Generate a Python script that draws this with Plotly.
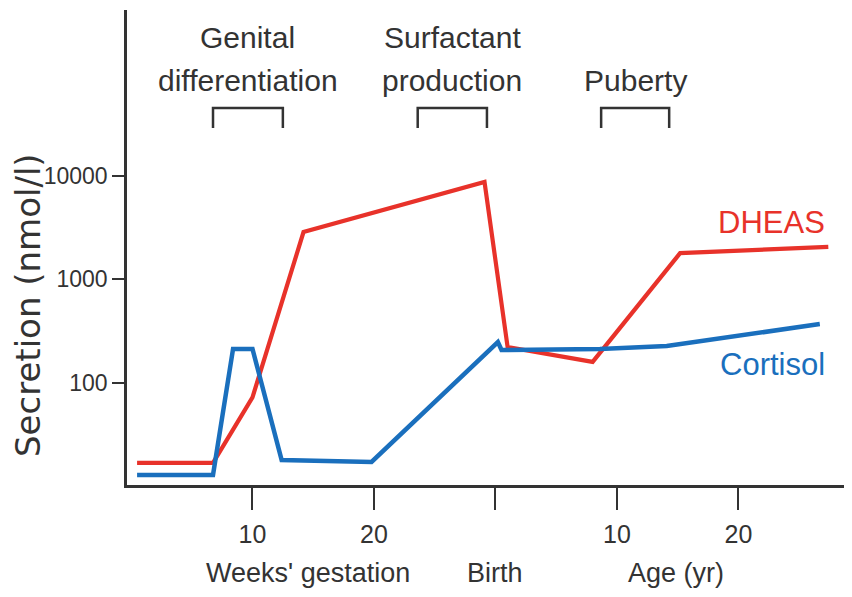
import plotly.graph_objects as go

# x scale: weeks of gestation 0-30, birth = 30, then 30 + age in years
dheas_x = [0.5, 6.75, 10.0, 14.2, 29.1, 31.0, 38.0, 45.2, 57.4]
dheas_y = [16.7, 16.7, 72, 2840, 8650, 220, 158, 1780, 2040]

cortisol_x = [0.5, 6.75, 8.4, 10.0, 12.4, 19.8, 30.2, 30.5, 38.6, 44.1, 56.7]
cortisol_y = [12.8, 12.8, 211, 211, 17.8, 17.1, 246, 206, 211, 225, 367]

x_tick_vals = [10, 20, 30, 40, 50]
x_tick_text = ["10", "20", "", "10", "20"]
y_tick_vals = [100, 1000, 10000]
y_tick_text = ["100", "1000", "10000"]

x_group_labels = ["Weeks' gestation", "Birth", "Age (yr)"]
x_group_pos = [14.6, 30.0, 44.9]

phase_line1 = ["Genital", "Surfactant", ""]
phase_line2 = ["differentiation", "production", "Puberty"]
phase_start = [6.75, 23.6, 38.7]
phase_end = [12.5, 29.3, 44.3]

RED = "#e8322a"
BLUE = "#1a6fbd"
AX = "#333333"
TXT = "#333333"
FONT = "Liberation Sans, Arial, sans-serif"

# page body adds an 8px offset; compensate in size/margins
OFF = 8

fig = go.Figure()
fig.add_trace(go.Scatter(x=dheas_x, y=dheas_y, mode="lines",
                         line=dict(color=RED, width=4.2), name="DHEAS"))
fig.add_trace(go.Scatter(x=cortisol_x, y=cortisol_y, mode="lines",
                         line=dict(color=BLUE, width=4.5), name="Cortisol"))

fig.update_layout(
    width=852 - OFF, height=597 - OFF,
    margin=dict(l=127 - OFF, r=0, t=10 - OFF, b=112),
    paper_bgcolor="white", plot_bgcolor="white",
    showlegend=False,
    font=dict(family=FONT, color=TXT),
)
fig.update_xaxes(range=[-0.33, 59.35], showgrid=False, zeroline=False,
                 showline=True, linecolor=AX, linewidth=2.5,
                 ticks="outside", ticklen=22, tickwidth=2, tickcolor=AX,
                 tickvals=x_tick_vals, ticktext=x_tick_text,
                 tickfont=dict(size=25, family=FONT, color=TXT),
                 ticklabelstandoff=3)
fig.update_yaxes(type="log", range=[1.0097, 5.599], showgrid=False, zeroline=False,
                 showline=True, linecolor=AX, linewidth=2.5,
                 ticks="outside", ticklen=12, tickwidth=2, tickcolor=AX,
                 tickvals=y_tick_vals, ticktext=y_tick_text,
                 tickfont=dict(size=23, family=FONT, color=TXT))

def py(screen_y):
    return (485 - screen_y) / 475.0

# lower row of x labels
for lab, xp in zip(x_group_labels, x_group_pos):
    fig.add_annotation(x=xp, xref="x", y=py(573), yref="paper", text=lab,
                       showarrow=False, yanchor="middle",
                       font=dict(size=27, family=FONT, color=TXT))

# phase brackets and labels
yb, yt = py(128), py(108)
for l1, l2, s, e in zip(phase_line1, phase_line2, phase_start, phase_end):
    fig.add_shape(type="path", xref="x", yref="paper",
                  path=f"M {s},{yb} L {s},{yt} L {e},{yt} L {e},{yb}",
                  line=dict(color=AX, width=2.5))
    if l1:
        fig.add_annotation(x=(s + e) / 2, xref="x", y=py(37), yref="paper", text=l1,
                           showarrow=False, yanchor="middle",
                           font=dict(size=30, family=FONT, color=TXT))
    fig.add_annotation(x=(s + e) / 2, xref="x", y=py(80), yref="paper", text=l2,
                       showarrow=False, yanchor="middle",
                       font=dict(size=30, family=FONT, color=TXT))

# series labels
fig.add_annotation(x=57.3, xref="x", y=py(222), yref="paper", text="DHEAS", showarrow=False,
                   xanchor="right", yanchor="middle",
                   font=dict(size=31, family=FONT, color=RED))
fig.add_annotation(x=57.3, xref="x", y=py(364), yref="paper", text="Cortisol", showarrow=False,
                   xanchor="right", yanchor="middle",
                   font=dict(size=31, family=FONT, color=BLUE))

# y axis title
fig.add_annotation(x=(28 - 127) / 725.0, xref="paper", y=py(305), yref="paper",
                   text="Secretion (nmol/l)", showarrow=False, textangle=-90,
                   xanchor="center", yanchor="middle",
                   font=dict(size=34, family="DejaVu Sans", color=TXT))

fig.write_html("out.html")
